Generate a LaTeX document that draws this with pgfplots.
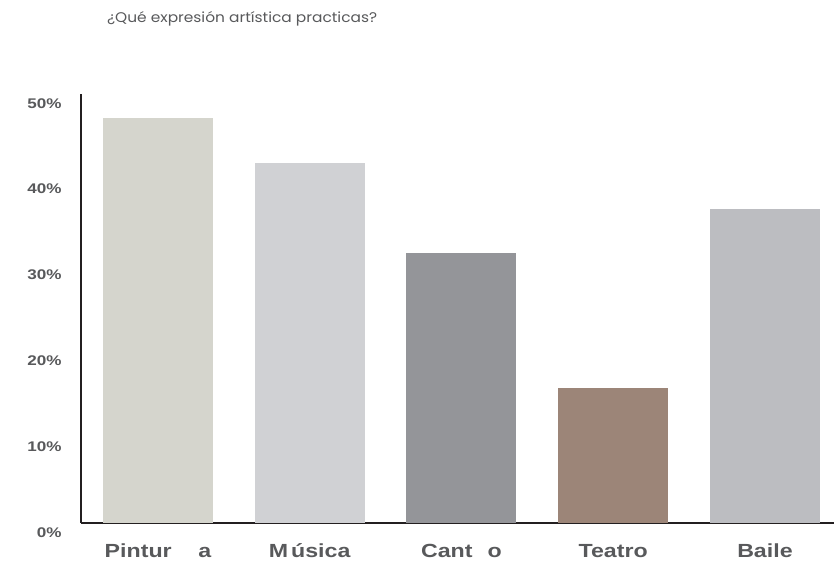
\documentclass[border=0pt]{standalone}
\usepackage{fontspec}
\usepackage{pgfplots}
\pgfplotsset{compat=1.18}
\newfontfamily\titlefont[FakeStretch=1.1]{Poppins}
\newfontfamily\labfont[FakeStretch=1.22]{Liberation Sans}
\definecolor{cPint}{HTML}{D5D5CD}
\definecolor{cMus}{HTML}{D0D1D4}
\definecolor{cCant}{HTML}{949599}
\definecolor{cTea}{HTML}{9C8578}
\definecolor{cBai}{HTML}{BCBDC1}
\definecolor{txt}{HTML}{58595B}
\definecolor{axl}{HTML}{231F20}
\begin{document}
\begin{tikzpicture}[x=1pt,y=1pt]
\useasboundingbox (0,0) rectangle (834,560);
\node[anchor=base west, font=\titlefont\fontsize{14}{16}\selectfont, text=txt, inner sep=0] at (107,537) {¿Qué expresión artística practicas?};
\begin{axis}[
  at={(81pt,37pt)}, anchor=south west,
  scale only axis, width=753pt, height=429pt,
  xmin=-0.507, xmax=4.455, ymin=0, ymax=50,
  axis lines*=left,
  axis line style={axl, line width=1.8pt},
  major tick length=0pt,
  xtick={0,1,2,3,4},
  xticklabels={{Pintur\hspace{1.4em}a},{M\hspace{0.15em}úsica},{Cant\hspace{0.8em}o},{Teatro},{Baile}},
  xticklabel style={anchor=base, yshift=-34pt, font=\labfont\bfseries\fontsize{19}{22}\selectfont, text=txt},
  ytick={0,10,20,30,40,50},
  yticklabels={0\%,10\%,20\%,30\%,40\%,50\%},
  yticklabel style={anchor=base east, xshift=-16pt, yshift=-14pt, font=\labfont\bfseries\fontsize{14}{16}\selectfont, text=txt},
  ybar, bar width=0.725, bar shift=0pt,
  clip=false,
]
\addplot[fill=cPint, draw=none] coordinates {(0,47.2)};
\addplot[fill=cMus, draw=none] coordinates {(1,42.0)};
\addplot[fill=cCant, draw=none] coordinates {(2,31.5)};
\addplot[fill=cTea, draw=none] coordinates {(3,15.7)};
\addplot[fill=cBai, draw=none] coordinates {(4,36.6)};
\end{axis}
\end{tikzpicture}
\end{document}
